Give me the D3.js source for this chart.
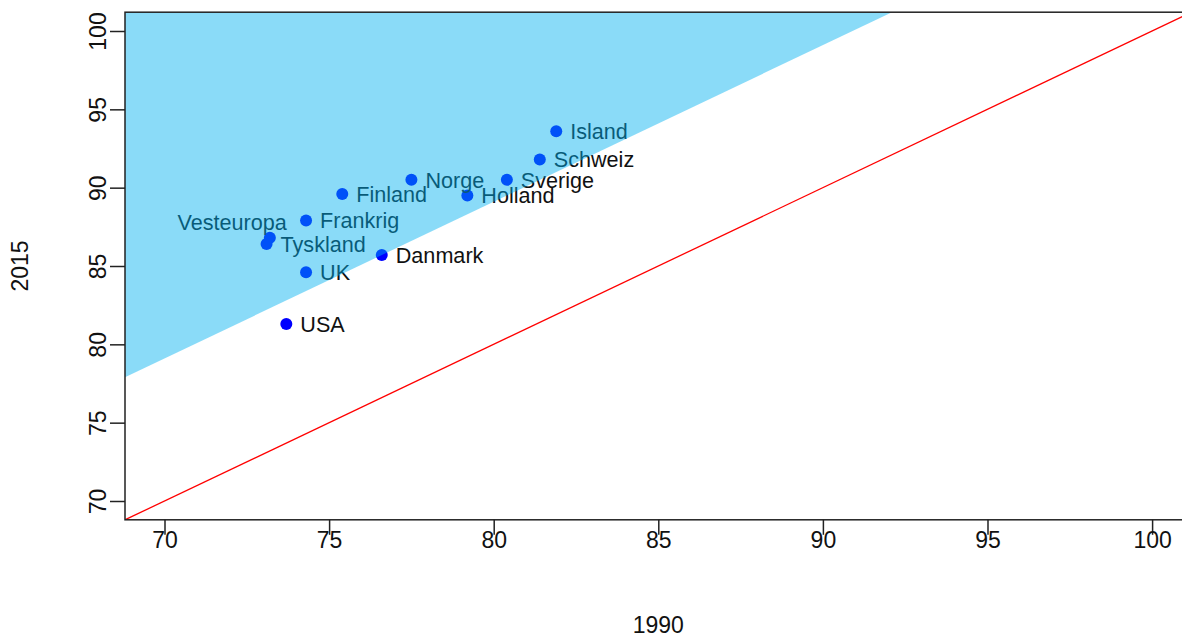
<!DOCTYPE html>
<html>
<head>
<meta charset="utf-8">
<script src="https://cdn.jsdelivr.net/npm/d3@7"></script>
<style>
  body { margin: 0; background: #fff; }
  text { font-family: "Liberation Sans", Arial, sans-serif; fill: #111; }
</style>
</head>
<body>
<div id="chart"></div>
<script>
// levealder
const countries = ["Island", "Schweiz", "Sverige", "Norge", "Holland", "Finland",
                   "Frankrig", "Vesteuropa", "Tyskland", "UK", "Danmark", "USA"];
const values1990 = [81.9, 81.4, 80.4, 77.5, 79.2, 75.4, 74.3, 73.2, 73.1, 74.3, 76.6, 73.7];
const values2015 = [93.6, 91.8, 90.5, 90.5, 89.5, 89.6, 87.9, 86.8, 86.4, 84.6, 85.7, 81.3];
const axisLimits = [70, 100];
const tickValues = [70, 75, 80, 85, 90, 95, 100];
const bandOffset = 9.1;   // shaded region: 2015 > 1990 + offset

const width = 1182, height = 636;
const margin = { left: 125, top: 12.2 };
const plotW = 1066.6, plotH = 507.6;

const svg = d3.select('#chart').append('svg')
    .attr('width', width)
    .attr('height', height);

// R style 4% padding on the axis limits
const pad = (axisLimits[1] - axisLimits[0]) * 0.04;
const domain = [axisLimits[0] - pad, axisLimits[1] + pad];

const xScale = d3.scaleLinear().domain(domain).range([margin.left, margin.left + plotW]);
const yScale = d3.scaleLinear().domain(domain).range([margin.top + plotH, margin.top]);

svg.append('clipPath').attr('id', 'plotClip')
  .append('rect')
    .attr('x', margin.left).attr('y', margin.top)
    .attr('width', plotW).attr('height', plotH);

const plotG = svg.append('g').attr('clip-path', 'url(#plotClip)');

const data = countries.map((c, i) => ({ name: c, x: values1990[i], y: values2015[i] }));

// y = x reference line
plotG.append('line')
    .attr('x1', xScale(domain[0])).attr('y1', yScale(domain[0]))
    .attr('x2', xScale(domain[1])).attr('y2', yScale(domain[1]))
    .attr('stroke', '#ff0000')
    .attr('stroke-width', 1.3);

// points
plotG.selectAll('.dot')
    .data(data)
  .enter().append('circle')
    .attr('class', 'dot')
    .attr('cx', d => xScale(d.x))
    .attr('cy', d => yScale(d.y))
    .attr('r', 6)
    .attr('fill', '#0000ff');

// labels, right of the point, Vesteuropa sits up and to the left
plotG.selectAll('.lbl')
    .data(data)
  .enter().append('text')
    .attr('class', 'lbl')
    .attr('x', d => d.name === 'Vesteuropa' ? xScale(d.x) + 17 : xScale(d.x) + 14)
    .attr('y', d => d.name === 'Vesteuropa' ? yScale(d.y) - 8 : yScale(d.y))
    .attr('dy', d => d.name === 'Vesteuropa' ? null : '0.36em')
    .attr('text-anchor', d => d.name === 'Vesteuropa' ? 'end' : 'start')
    .style('font-size', '21.6px')
    .text(d => d.name);

// transparent band drawn on top of the marks
const bandX0 = domain[0];
const bandX1 = domain[1] - bandOffset;
const band = [
    [bandX0, bandX0 + bandOffset],
    [bandX1, domain[1]],
    [bandX0, domain[1]]
];
plotG.append('path')
    .attr('d', d3.line().x(d => xScale(d[0])).y(d => yScale(d[1]))(band) + 'Z')
    .attr('fill', '#00b0f0')
    .attr('fill-opacity', 0.46);

// box
svg.append('rect')
    .attr('x', margin.left).attr('y', margin.top)
    .attr('width', plotW).attr('height', plotH)
    .attr('fill', 'none')
    .attr('stroke', '#222')
    .attr('stroke-width', 1.5);

// axes
const xAxis = d3.axisBottom(xScale).tickValues(tickValues).tickSize(15).tickPadding(-3);
const xAxisG = svg.append('g')
    .attr('transform', `translate(0, ${margin.top + plotH})`)
    .call(xAxis);
xAxisG.select('.domain').remove();
xAxisG.selectAll('line').attr('stroke', '#222').attr('stroke-width', 1.5);
xAxisG.selectAll('text')
    .attr('fill', '#111')
    .style('font-size', '23px')
    .style('font-family', '"Liberation Sans", Arial, sans-serif');

const yAxis = d3.axisLeft(yScale).tickValues(tickValues).tickSize(15);
const yAxisG = svg.append('g')
    .attr('transform', `translate(${margin.left}, 0)`)
    .call(yAxis);
yAxisG.select('.domain').remove();
yAxisG.selectAll('line').attr('stroke', '#222').attr('stroke-width', 1.5);
yAxisG.selectAll('text')
    .attr('x', null)
    .attr('dy', null)
    .attr('text-anchor', 'middle')
    .attr('transform', 'translate(-19.5, 0) rotate(-90)')
    .attr('fill', '#111')
    .style('font-size', '23px')
    .style('font-family', '"Liberation Sans", Arial, sans-serif');

// axis titles
svg.append('text')
    .attr('x', margin.left + plotW / 2)
    .attr('y', 633)
    .attr('text-anchor', 'middle')
    .style('font-size', '23px')
    .text('1990');

svg.append('text')
    .attr('transform', `translate(28, ${margin.top + plotH / 2}) rotate(-90)`)
    .attr('text-anchor', 'middle')
    .style('font-size', '23px')
    .text('2015');
</script>
</body>
</html>
